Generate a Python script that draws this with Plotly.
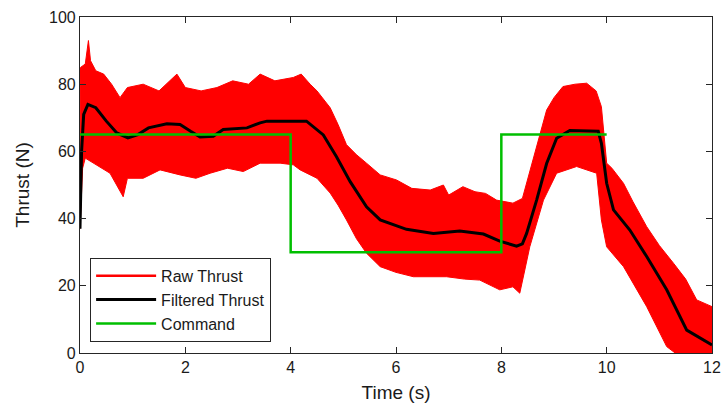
import plotly.graph_objects as go

# Raw thrust envelope
raw_up_t = [0.0, 0.01, 0.1, 0.16, 0.2, 0.3, 0.45, 0.6, 0.76, 0.9, 1.2, 1.5, 1.84, 2.0, 2.3, 2.6, 2.9, 3.2, 3.42,
            3.7, 4.05, 4.2, 4.37, 4.5, 4.75, 4.9, 5.06, 5.25, 5.44, 5.7, 6.01, 6.3, 6.65, 6.9, 7.0, 7.27, 7.5,
            7.7, 7.91, 8.22, 8.4, 8.6, 8.86, 9.0, 9.17, 9.4, 9.62, 9.8, 9.9, 10.0, 10.1, 10.32, 10.5, 10.76,
            11.0, 11.27, 11.5, 11.71, 12.0]
raw_up_v = [38, 85, 86, 93, 87, 84, 83, 80, 76, 79, 80, 78, 83, 79, 78, 79, 81, 80, 83,
            81, 82, 83, 80, 78, 73, 68, 62, 59, 56.5, 53, 51.5, 49, 48.5, 50, 47, 49.5, 48,
            47.5, 45.5, 44.6, 46, 57.4, 72.3, 76, 79.3, 80, 80.3, 78, 73.3, 56.5, 55, 50.5, 45, 37.6,
            32, 26.7, 22, 15.8, 13.8]
raw_lo_t = [0.0, 0.05, 0.1, 0.3, 0.57, 0.82, 0.9, 1.2, 1.52, 1.9, 2.2, 2.47, 2.8, 3.1, 3.42, 3.8, 4.05, 4.18,
            4.5, 4.75, 4.9, 5.06, 5.25, 5.44, 5.7, 6.0, 6.33, 6.96, 7.3, 7.59, 7.97, 8.22, 8.35, 8.45, 8.54,
            8.8, 9.05, 9.43, 9.81, 9.9, 10.0, 10.32, 10.76, 11.14, 11.3, 12.0]
raw_lo_v = [37, 55, 58, 56, 53.5, 46.5, 52, 52, 54.5, 53, 52, 53.5, 55, 54, 56.5, 56.5, 56, 54.5,
            52, 47.6, 44, 39.6, 34, 29.7, 25.7, 24, 22.7, 22.7, 22, 21.7, 18.8, 19.7, 17.8, 25, 31.6,
            45.5, 53.5, 55.5, 53.5, 39.6, 31.6, 25.7, 13.8, 1.9, 0, 0]

# Filtered thrust
filt_t = [0, 0.03, 0.07, 0.15, 0.3, 0.5, 0.7, 0.91, 1.1, 1.3, 1.65, 1.9, 2.1, 2.28, 2.53, 2.72, 3.17, 3.42,
          3.55, 3.8, 4.0, 4.3, 4.62, 4.87, 5.13, 5.44, 5.7, 6.2, 6.71, 7.21, 7.66, 7.97, 8.29, 8.4, 8.48,
          8.67, 8.86, 9.05, 9.3, 9.84, 9.9, 10.0, 10.13, 10.44, 10.76, 11.14, 11.52, 11.77, 12.0]
filt_v = [37, 60, 71, 74, 73, 69, 65.5, 64, 65, 67, 68.2, 68, 66, 64.3, 64.5, 66.5, 67, 68.5,
          69, 69, 68.8, 69, 64.9, 58.4, 51, 43.5, 39.6, 36.8, 35.6, 36.3, 35.4, 33.3, 31.8, 32.5, 35.6,
          45.5, 56.4, 63.9, 66.2, 66, 62.4, 50.5, 42.6, 36.6, 28.7, 18.8, 6.8, 4.4, 2.4]

# Command (step)
cmd_t = [0, 4, 4, 8, 8, 10]
cmd_v = [65, 65, 30, 30, 65, 65]

x_ticks = [0, 2, 4, 6, 8, 10, 12]
y_ticks = [0, 20, 40, 60, 80, 100]

RED = "#ff0000"
GREEN = "#00bf00"
FONT = "Liberation Sans, Arial"

fig = go.Figure()
fig.add_trace(go.Scatter(x=raw_lo_t, y=raw_lo_v, mode="lines", line=dict(color=RED, width=1),
                         showlegend=False, hoverinfo="skip"))
fig.add_trace(go.Scatter(x=raw_up_t, y=raw_up_v, mode="lines", line=dict(color=RED, width=1),
                         fill="tonexty", fillcolor=RED, showlegend=False, hoverinfo="skip"))
fig.add_trace(go.Scatter(x=[None], y=[None], mode="lines", line=dict(color=RED, width=2.5),
                         name="Raw Thrust", legendgroup="a"))
fig.add_trace(go.Scatter(x=filt_t, y=filt_v, mode="lines", line=dict(color="black", width=3),
                         name="Filtered Thrust", legendgroup="b"))
fig.add_trace(go.Scatter(x=cmd_t, y=cmd_v, mode="lines", line=dict(color=GREEN, width=2.5),
                         name="Command", legendgroup="c"))

axis_common = dict(showline=True, linecolor="#262626", linewidth=1.2, mirror="ticks",
                   ticks="inside", ticklen=6, tickcolor="#262626", showgrid=False, zeroline=False,
                   automargin=False,
                   tickfont=dict(family=FONT, size=16, color="#1a1a1a"))

fig.update_layout(
    width=724, height=408,
    margin=dict(l=80, r=12, t=17, b=55),
    paper_bgcolor="white", plot_bgcolor="white",
    font=dict(family=FONT, size=16, color="#1a1a1a"),
    xaxis=dict(range=[0, 12], tickvals=x_ticks, title=dict(text="Time (s)", standoff=10), **axis_common),
    yaxis=dict(range=[0, 100], tickvals=y_ticks, title=dict(text="Thrust (N)", standoff=14), **axis_common),
    legend=dict(x=0.016, y=0.283, xanchor="left", yanchor="top", bgcolor="white",
                bordercolor="#262626", borderwidth=1, font=dict(family=FONT, size=16),
                traceorder="normal", tracegroupgap=3, itemwidth=60),
)

fig.write_html("out.html", config={"displayModeBar": False},
               post_script="document.body.style.margin='0px';document.body.style.overflow='hidden';")
